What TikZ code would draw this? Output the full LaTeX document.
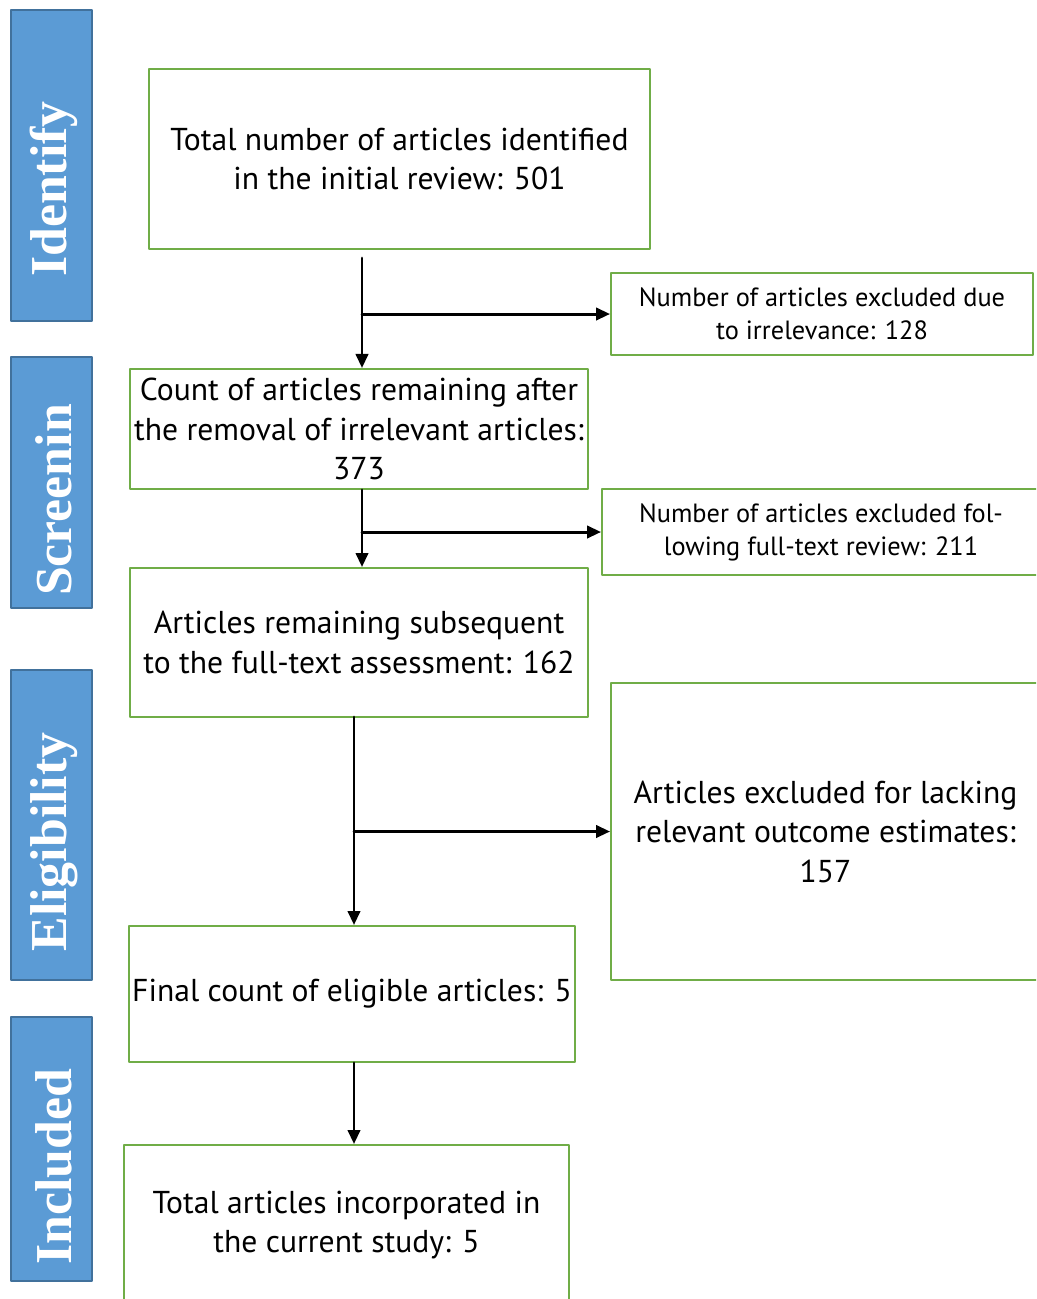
\documentclass[tikz,border=0pt]{standalone}
\usepackage{fontspec}
\setmainfont{PT Sans}
\newfontfamily\stagefont{Liberation Serif}
\usetikzlibrary{arrows.meta}
\definecolor{boxgreen}{HTML}{70AD47}
\definecolor{stageblue}{HTML}{5B9BD5}
\definecolor{stageedge}{HTML}{41719C}

\begin{document}
\begin{tikzpicture}[x=0.02cm, y=-0.02cm, line cap=round, line join=round, >={Triangle[length=8pt,width=7pt]}]
	\tikzset{box/.style={draw=boxgreen, line width=1.1pt, align=center, inner sep=2pt, font=\fontsize{18}{22.5}\selectfont},
		sidebox/.style={box, font=\fontsize{15}{18.8}\selectfont},
		stage/.style={fill=stageblue, draw=stageedge, line width=0.8pt},
		stagetext/.style={rotate=90, text=white, inner sep=0pt, font=\stagefont\bfseries\fontsize{29.5}{30}\selectfont},
		flow/.style={->, line width=1.7pt}}
	\useasboundingbox (0,0) rectangle (1036,1299);
	\clip (0,0) rectangle (1036,1299);
	\draw[stage] (11,10) rectangle (92,321);
	\draw[stage] (11,357) rectangle (92,608);
	\draw[stage] (11,670) rectangle (92,980);
	\draw[stage] (11,1017) rectangle (92,1281);
	\node[stagetext] (identify) at (54,189) {Identify};
	\node[stagetext] (screening) at (54,500) {Screenin};
	\node[stagetext] (eligibility) at (54,842) {Eligibility};
	\node[stagetext] (included) at (54,1167) {Included};
	\node[box, minimum width=10.02cm, minimum height=3.6cm] (total) at (399.5,159) {Total number of articles identified\\in the initial review: 501};
	\node[sidebox, minimum width=8.44cm, minimum height=1.64cm] (irrel) at (822,314) {Number of articles excluded due\\to irrelevance: 128};
	\node[box, minimum width=9.16cm, minimum height=2.4cm] (remain) at (359,429) {Count of articles remaining after\\the removal of irrelevant articles:\\373};
	\node[sidebox, minimum width=8.76cm, minimum height=1.72cm] (fulltext) at (821,532) {Number of articles excluded fol-\\lowing full-text review: 211};
	\node[box, minimum width=9.16cm, minimum height=2.98cm] (assess) at (359,642.5) {Articles remaining subsequent\\to the full-text assessment: 162};
	\node[box, minimum width=8.58cm, minimum height=5.94cm] (lacking) at (825.5,831.5) {Articles excluded for lacking\\relevant outcome estimates:\\157};
	\node[box, minimum width=8.88cm, minimum height=2.72cm] (eligible) at (352,994) {Final count of eligible articles: 5};
	\node[box, minimum width=8.9cm, minimum height=3.2cm] (study) at (346.5,1225) {Total articles incorporated in\\the current study: 5};
	\coordinate (s1) at (362,258);
	\coordinate (s3) at (354,717);
	\draw[flow] (s1) -- (s1 |- remain.north);
	\draw[flow] (s1 |- irrel.west) -- (irrel.west);
	\draw[flow] (remain.south -| s1) -- (assess.north -| s1);
	\draw[flow] (fulltext.west -| s1) -- (fulltext.west);
	\draw[flow] (s3) -- (eligible.north -| s3);
	\draw[flow] (lacking.west -| s3) -- (lacking.west);
	\draw[flow] (eligible.south -| s3) -- (study.north -| s3);
\end{tikzpicture}
\end{document}
